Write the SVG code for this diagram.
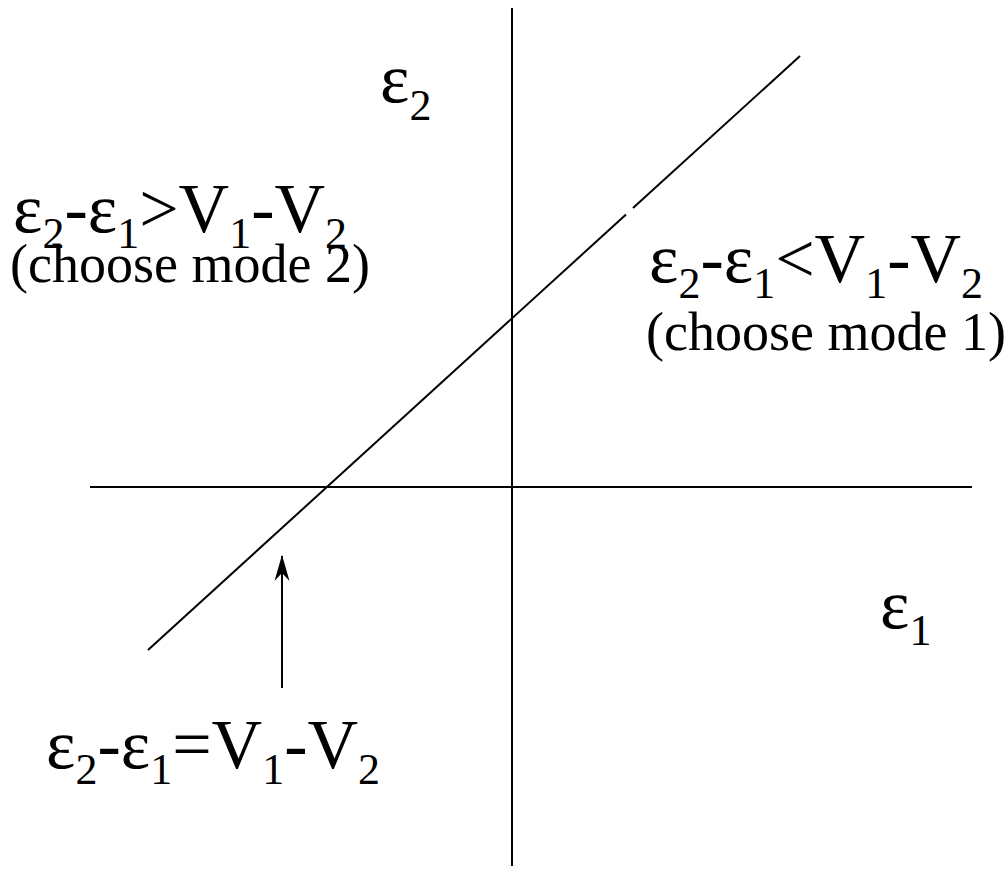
<svg xmlns="http://www.w3.org/2000/svg" width="1007" height="869" viewBox="0 0 1007 869">
<style>
.ln{stroke:#000;stroke-width:2;fill:none}
text{font-family:"Liberation Serif","Times New Roman",Times,serif;fill:#000}
.big{font-size:70px}
.sub{font-size:44px}
.sm{font-size:54px}
</style>
<defs>
<marker id="ah" markerWidth="26" markerHeight="16" refX="25" refY="8" orient="auto" markerUnits="userSpaceOnUse" viewBox="0 0 26 16">
<path d="M26,8 L0,0.5 L8,8 L0,15.5 Z" fill="#000"/>
</marker>
</defs>
<rect width="1007" height="869" fill="#fff"/>
<g id="connectors">
<line id="y-axis" class="ln" x1="512" y1="8" x2="512" y2="866"/>
<line id="x-axis" class="ln" x1="90" y1="487" x2="972" y2="487"/>
<line id="boundary-lower" class="ln" x1="148" y1="650" x2="626" y2="214.5"/>
<line id="boundary-upper" class="ln" x1="633" y1="208" x2="800" y2="56"/>
<line id="arrow" class="ln" x1="282" y1="688" x2="282" y2="556" marker-end="url(#ah)"/>
</g>
<g id="label-e2">
<text class="big" x="380" y="102">ε<tspan class="sub" dy="18">2</tspan></text>
</g>
<g id="label-e1">
<text class="big" x="880" y="628">ε<tspan class="sub" dy="17">1</tspan></text>
</g>
<g id="region-mode2">
<text class="big" x="13" y="232">ε<tspan class="sub" dy="16">2</tspan><tspan dy="-16">-ε</tspan><tspan class="sub" dy="16">1</tspan><tspan dy="-16">&gt;V</tspan><tspan class="sub" dy="16">1</tspan><tspan dy="-16">-V</tspan><tspan class="sub" dy="16">2</tspan></text>
<text class="sm" x="10" y="282">(choose mode 2)</text>
</g>
<g id="region-mode1">
<text class="big" x="649" y="282">ε<tspan class="sub" dy="16">2</tspan><tspan dy="-16">-ε</tspan><tspan class="sub" dy="16">1</tspan><tspan dy="-16">&lt;V</tspan><tspan class="sub" dy="16">1</tspan><tspan dy="-16">-V</tspan><tspan class="sub" dy="16">2</tspan></text>
<text class="sm" x="646" y="350">(choose mode 1)</text>
</g>
<g id="label-boundary">
<text class="big" x="46" y="768">ε<tspan class="sub" dy="16">2</tspan><tspan dy="-16">-ε</tspan><tspan class="sub" dy="16">1</tspan><tspan dy="-16">=V</tspan><tspan class="sub" dy="16">1</tspan><tspan dy="-16">-V</tspan><tspan class="sub" dy="16">2</tspan></text>
</g>
</svg>
